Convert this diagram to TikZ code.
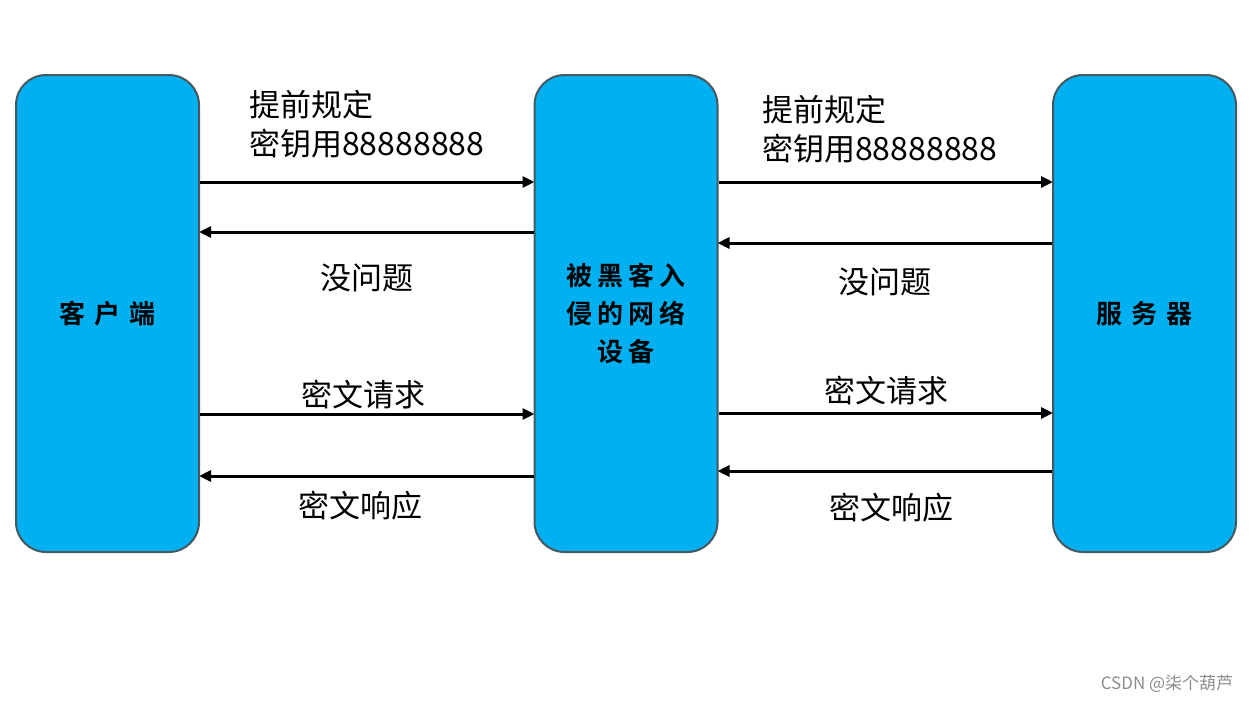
\documentclass[tikz,border=0pt]{standalone}
\usepackage{fontspec}
\newfontfamily\cjk{Noto Sans CJK SC}[BoldFont={Noto Sans CJK SC Bold}]
\usepackage{tikz}
\usetikzlibrary{arrows.meta, positioning}
\definecolor{boxblue}{RGB}{0,176,240}
\definecolor{boxline}{RGB}{70,88,96}
\tikzset{
  party/.style={draw=boxline, line width=2pt, fill=boxblue, rounded corners=30pt,
    minimum width=183pt, minimum height=477pt, inner sep=0pt, align=center,
    font=\cjk\bfseries\fontsize{26}{38}\selectfont},
  msg/.style={line width=3pt, -{Triangle[length=12pt,width=11pt]}, shorten >=-1pt},
  lbl/.style={inner sep=0pt, font=\cjk\fontsize{31}{39}\selectfont}
}
\begin{document}
\begin{tikzpicture}[x=1pt, y=-1pt]
    \useasboundingbox (0,0) rectangle (1252,702);
    % the three parties
    \node[party] (client) at (107.5,313.5) {客\hspace{9pt}户\hspace{9pt}端};
    \node[party] (hacker) at (626,313.5) {被\hspace{5pt}黑\hspace{5pt}客\hspace{5pt}入\\侵\hspace{5pt}的\hspace{5pt}网\hspace{5pt}络\\设\hspace{5pt}备};
    \node[party] (server) at (1144.5,313.5) {服\hspace{9pt}务\hspace{9pt}器};

    % client <-> hacker
    \draw[msg] (client.east |- 0,182) -- (hacker.west |- 0,182);
    \draw[msg] (hacker.west |- 0,232) -- (client.east |- 0,232);
    \draw[msg] (client.east |- 0,414) -- (hacker.west |- 0,414);
    \draw[msg] (hacker.west |- 0,476) -- (client.east |- 0,476);

    % hacker <-> server
    \draw[msg] (hacker.east |- 0,182) -- (server.west |- 0,182);
    \draw[msg] (server.west |- 0,243) -- (hacker.east |- 0,243);
    \draw[msg] (hacker.east |- 0,413) -- (server.west |- 0,413);
    \draw[msg] (server.west |- 0,471) -- (hacker.east |- 0,471);

    % labels
    \node[lbl, align=left, anchor=west] (keyl) at (249,124) {提前规定\\密钥用{\fontsize{32}{39}\selectfont 88888888}};
    \node[lbl] (okl) at (367,278) {没问题};
    \node[lbl] (reql) at (363,395) {密文请求};
    \node[lbl] (resl) at (360,506) {密文响应};
    \node[lbl, align=left, anchor=west] (keyr) at (762,129) {提前规定\\密钥用{\fontsize{32}{39}\selectfont 88888888}};
    \node[lbl] (okr) at (885,282) {没问题};
    \node[lbl] (reqr) at (886,391) {密文请求};
    \node[lbl] (resr) at (891,508) {密文响应};

    \node[inner sep=0pt, text=black!45, font=\cjk\fontsize{17}{19}\selectfont] (mark) at (1167,684) {CSDN @柒个葫芦};
\end{tikzpicture}
\end{document}
